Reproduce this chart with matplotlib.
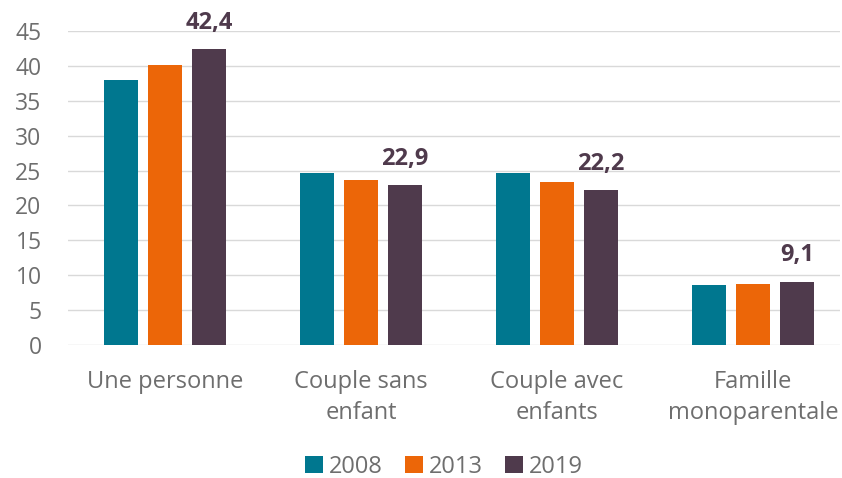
import matplotlib
matplotlib.use("Agg")
import matplotlib.pyplot as plt
import numpy as np

plt.rcParams['font.family'] = ['Open Sans', 'DejaVu Sans']

categories = ["Une personne", "Couple sans\nenfant", "Couple avec\nenfants", "Famille\nmonoparentale"]
years = ["2008", "2013", "2019"]
v2008 = [38.0, 24.6, 24.6, 8.6]
v2013 = [40.1, 23.6, 23.4, 8.7]
v2019 = [42.4, 22.9, 22.2, 9.1]
labels2019 = ["42,4", "22,9", "22,2", "9,1"]
colors = ["#00778f", "#ec6608", "#4f3a4c"]
text_gray = "#6e6e6e"

fig = plt.figure(figsize=(8.42, 4.78), dpi=100)
ax = fig.add_axes([68/842, 1-345/478, (840-68)/842, (345-31)/478])

x = np.arange(len(categories))
w = 0.173
off = 0.224
series = [v2008, v2013, v2019]
for i, (s, c, y) in enumerate(zip(series, colors, years)):
    ax.bar(x + (i-1)*off, s, width=w, color=c, label=y, zorder=3)

for xi, v, t in zip(x, v2019, labels2019):
    ax.text(xi + off, v + 2.05, t, ha='center', va='bottom', fontsize=17,
            fontweight='bold', color="#4f3a4c")

ax.set_ylim(0, 45)
ax.set_xlim(-0.495, 3.444)
ax.set_yticks(range(0, 46, 5))
ax.yaxis.grid(True, color="#d9d9d9", linewidth=1, zorder=0)
ax.set_axisbelow(True)
for sp in ax.spines.values():
    sp.set_visible(False)
ax.tick_params(axis='y', length=0, labelsize=16.5, labelcolor=text_gray, pad=19)
ax.tick_params(axis='x', length=0, labelsize=17, labelcolor=text_gray, pad=18)
ax.set_xticks(x)
ax.set_xticklabels(categories, linespacing=1.38)

leg = fig.legend(loc='center', bbox_to_anchor=(444/842, 1-467/478), ncol=3, frameon=False,
                 fontsize=17, handlelength=0.75, handleheight=0.75, handletextpad=0.25,
                 columnspacing=0.95)
for t in leg.get_texts():
    t.set_color(text_gray)

fig.savefig("out.png", dpi=100)
